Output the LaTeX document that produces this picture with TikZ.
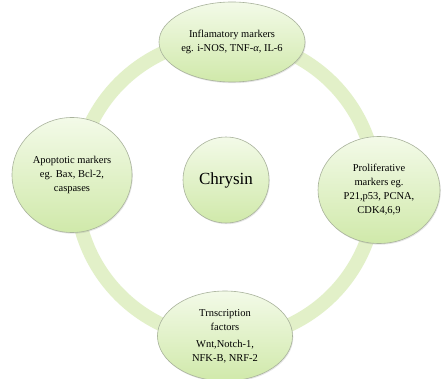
\documentclass[tikz,border=0pt]{standalone}
\usepackage{fontspec}
\setmainfont{Liberation Serif}
\usetikzlibrary{shapes.geometric,shadows}
\definecolor{ringgreen}{HTML}{E2F0C8}
\definecolor{toplight}{HTML}{F3FAE8}
\definecolor{botdark}{HTML}{D0E9AA}
\definecolor{rimgray}{HTML}{A9B39C}
\tikzset{
	bubble/.style={ellipse,draw=rimgray,line width=0.6pt,top color=toplight,bottom color=botdark,
		align=center,font=\fontsize{10.5}{14}\selectfont,inner sep=0pt,
		drop shadow={opacity=0.2,shadow xshift=0.8pt,shadow yshift=-1.2pt}},
	hub/.style={circle,draw=rimgray,line width=0.6pt,top color=toplight,bottom color=botdark,
		minimum size=86pt,font=\fontsize{17}{20}\selectfont,
		drop shadow={opacity=0.2,shadow xshift=0.8pt,shadow yshift=-1.2pt}}
}
\begin{document}
\begin{tikzpicture}[x=1pt,y=1pt]
		\useasboundingbox (0,0) rectangle (443,378);
		\fill[white] (0,0) rectangle (443,378);
		\draw[ringgreen,line width=14pt] (226,189) circle (150);

		\node[hub] (chry) at (226,198) {Chrysin};
		\node[bubble,minimum width=146pt,minimum height=80pt] (infl) at (232,336)
			{Inflamatory markers\\eg. i-NOS, TNF-\textit{α}, IL-6};
		\node[bubble,minimum width=120pt,minimum height=115pt] (apop) at (72,203)
			{Apoptotic markers\\eg. Bax, Bcl-2,\\caspases};
		\node[bubble,minimum width=122pt,minimum height=107pt] (prol) at (379,188)
			{Proliferative\\markers eg.\\P21,p53, PCNA,\\CDK4,6,9};
		\node[bubble,minimum width=135pt,minimum height=90pt] (trns) at (225,42)
			{Trnscription\\factors\\[3pt]Wnt,Notch-1,\\NFK-B, NRF-2};
	\end{tikzpicture}
\end{document}
